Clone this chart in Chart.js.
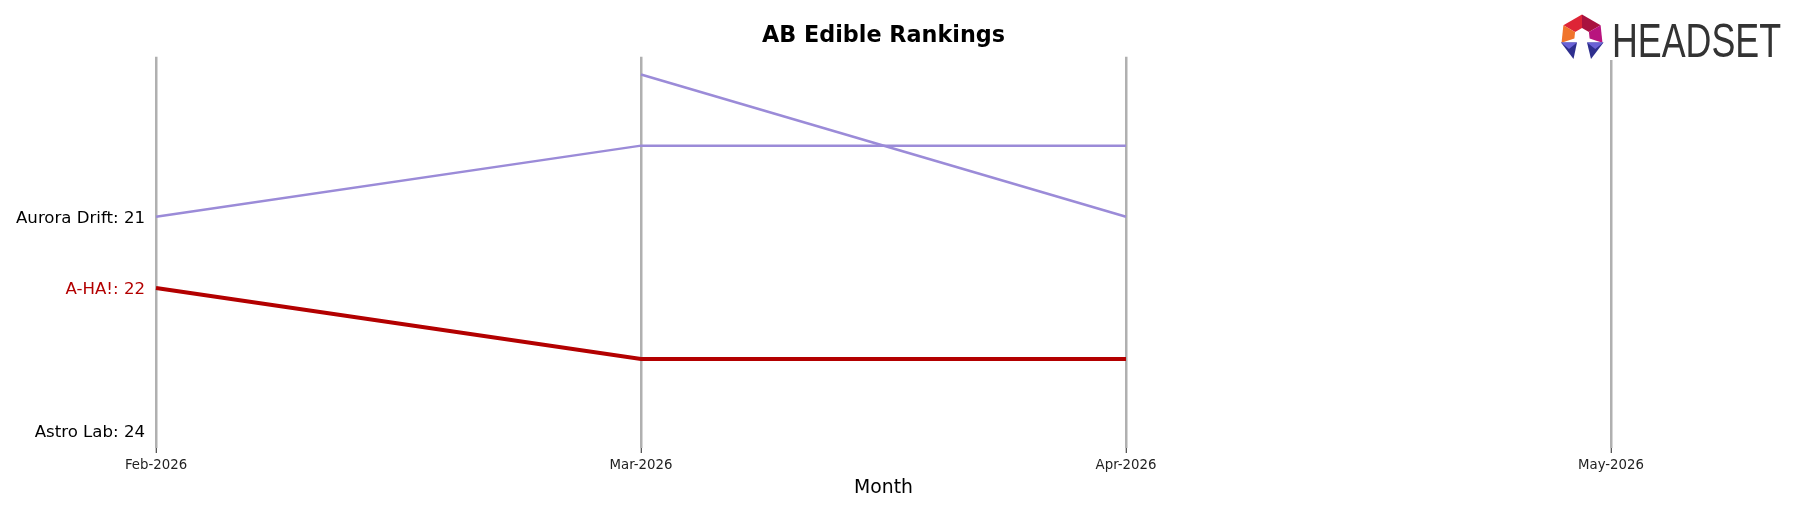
<!DOCTYPE html>
<html>
<head>
<meta charset="utf-8">
<title>AB Edible Rankings</title>
<script src="https://cdn.jsdelivr.net/npm/chart.js@4.4.1/dist/chart.umd.min.js"></script>
<style>
  body { margin: 0; background: #fff; }
  #wrap { width: 1795px; height: 507px; }
</style>
</head>
<body>
<div id="wrap"><canvas id="rankChart" width="1795" height="507"></canvas></div>
<script>
// months on the x axis
const months = ["Feb-2026", "Mar-2026", "Apr-2026", "May-2026"];

// rank per month (null = not ranked)
const auroraDrift = [21, 20, 20, null];
const otherBrand = [null, 19, 21, null];
const ahaRanks = [22, 23, 23, null];
const astroLab = [24, null, null, null];

// y labels shown at the first month
const labelNames = ["Aurora Drift", "A-HA!", "Astro Lab"];
const labelRanks = [auroraDrift[0], ahaRanks[0], astroLab[0]];

const purple = "#9b8bd8";
const red = "#b30000";

// Headset logo, drawn over the top of the last grid line
const logoPlugin = {
    id: "logo",
    afterDraw(chart) {
        const c = chart.ctx;
        c.save();
        c.fillStyle = "#fff";
        c.fillRect(1556, 0, 239, 60);

        const cx = 1582, cy = 36;
        const pt = (deg, r) => {
            const a = deg * Math.PI / 180;
            return [cx + r * Math.sin(a), cy - r * Math.cos(a)];
        };
        const poly = (pts, col) => {
            c.beginPath();
            c.moveTo(pts[0][0], pts[0][1]);
            for (let i = 1; i < pts.length; i++) c.lineTo(pts[i][0], pts[i][1]);
            c.closePath();
            c.fillStyle = col;
            c.fill();
        };
        const ro = 21.5, ri = 8;
        poly([pt(-60, ro), pt(0, ro), pt(0, ri), pt(-60, ri)], "#de2436");
        poly([pt(0, ro), pt(60, ro), pt(60, ri), pt(0, ri)], "#a8123f");
        poly([pt(60, ro), pt(108, ro), pt(108, ri), pt(60, ri)], "#b8147e");
        poly([pt(-108, ro), pt(-60, ro), pt(-60, ri), pt(-108, ri)], "#f0742c");
        // legs
        const legs = [[1561, 1577, 1573.5], [1587, 1603.5, 1591]];
        legs.forEach(([l, r, t]) => {
            poly([[l, 42.5], [r, 42.5], [t, 59]], "#2e2f8e");
            poly([[l, 42.5], [r, 42.5], [(l + r) / 2, 49]], "#6a62d6");
        });

        c.fillStyle = "#333";
        c.font = '49px "Liberation Sans Narrow", "Liberation Sans", sans-serif';
        c.textBaseline = "alphabetic";
        const w = c.measureText("HEADSET").width;
        c.translate(1612, 56.5);
        c.scale(169 / w, 1);
        c.fillText("HEADSET", 0, 0);
        c.restore();
    }
};

const ctx = document.getElementById("rankChart").getContext("2d");

new Chart(ctx, {
    type: "line",
    data: {
        labels: months,
        datasets: [
            {
                label: "Aurora Drift",
                data: auroraDrift,
                borderColor: purple,
                borderWidth: 2.5
            },
            {
                label: "Other brand",
                data: otherBrand,
                borderColor: purple,
                borderWidth: 2.5
            },
            {
                label: "A-HA!",
                data: ahaRanks,
                borderColor: red,
                borderWidth: 4
            },
            {
                label: "Astro Lab",
                data: astroLab,
                borderColor: purple,
                borderWidth: 2.5
            }
        ]
    },
    options: {
        responsive: false,
        animation: false,
        layout: { padding: { left: 0, right: 184, top: 0, bottom: 0 } },
        elements: {
            point: { radius: 0, hoverRadius: 0 },
            line: { tension: 0, borderCapStyle: "butt" }
        },
        plugins: {
            legend: { display: false },
            tooltip: { enabled: false },
            title: { display: false }
        },
        scales: {
            x: {
                offset: false,
                border: { display: false },
                grid: {
                    color: "#b0b0b0",
                    lineWidth: 2.5,
                    tickColor: "#222",
                    tickWidth: 1,
                    tickLength: 5
                },
                ticks: {
                    color: "#222",
                    font: { family: "DejaVu Sans", size: 13.3 },
                    padding: 5,
                    maxRotation: 0
                },
                title: {
                    display: true,
                    text: "Month",
                    color: "#000",
                    font: { family: "DejaVu Sans", size: 18.8 },
                    padding: { top: 0, bottom: 8 }
                },
                afterFit(scale) { scale.height = 59; }
            },
            // top axis only carries the chart title, centred over the plot
            xTitle: {
                type: "category",
                position: "top",
                display: true,
                offset: false,
                border: { display: false },
                grid: { display: false, drawTicks: false },
                ticks: { display: false },
                title: {
                    display: true,
                    text: "AB Edible Rankings",
                    color: "#000",
                    font: { family: "DejaVu Sans", size: 22.3, weight: "bold" },
                    padding: { top: 23.2, bottom: 0 }
                },
                afterFit(scale) { scale.height = 56.7; }
            },
            y: {
                reverse: true,
                min: 18.75,
                max: 24.25,
                border: { display: false },
                grid: { display: false, drawTicks: false },
                afterBuildTicks(scale) {
                    scale.ticks = labelRanks.map(v => ({ value: v }));
                },
                ticks: {
                    padding: 11,
                    labelOffset: 2,
                    font: { family: "DejaVu Sans", size: 16.6 },
                    color: (c) => (c.tick && c.tick.value === ahaRanks[0]) ? red : "#000",
                    callback: (value) => {
                        const i = labelRanks.indexOf(value);
                        return i >= 0 ? labelNames[i] + ": " + value : "";
                    }
                },
                afterFit(scale) { scale.width = 156; }
            }
        }
    },
    plugins: [logoPlugin]
});
</script>
</body>
</html>
